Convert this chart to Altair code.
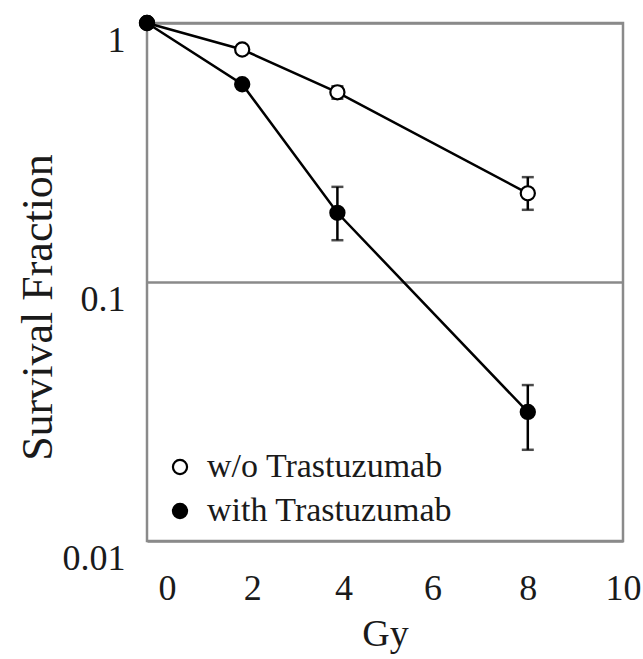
import altair as alt
import pandas as pd

dose = [0, 2, 4, 8]
series_names = ["w/o Trastuzumab", "with Trastuzumab"]
without_mean = [1.0, 0.79, 0.54, 0.22]
without_lo = [1.0, 0.77, 0.51, 0.19]
without_hi = [1.0, 0.81, 0.57, 0.254]
with_mean = [1.0, 0.58, 0.185, 0.0315]
with_lo = [1.0, 0.56, 0.145, 0.0225]
with_hi = [1.0, 0.60, 0.233, 0.040]
x_ticks = [0, 2, 4, 6, 8, 10]
y_ticks = [0.01, 0.1, 1]

rows = []
for name, m, lo, hi in [(series_names[0], without_mean, without_lo, without_hi),
                        (series_names[1], with_mean, with_lo, with_hi)]:
    for d, a, b, c in zip(dose, m, lo, hi):
        rows.append({"series": name, "dose": d, "sf": a, "lo": b, "hi": c})
df = pd.DataFrame(rows)

FONT = "Liberation Serif"
TXT = "#1a1a1a"

x_enc = alt.X("dose:Q",
              scale=alt.Scale(domain=[0, 10], nice=False, zero=False),
              axis=alt.Axis(values=x_ticks, title="Gy", grid=False, domain=False,
                            ticks=False, tickSize=0, labelPadding=30, labelFlush=False,
                            labelFont=FONT, labelFontSize=36, labelColor=TXT,
                            labelOffset={"condition": [
                                {"test": "datum.value == 0", "value": 20},
                                {"test": "datum.value == 2", "value": 10},
                                {"test": "datum.value == 4", "value": 6}],
                                "value": 0},
                            titleFont=FONT, titleFontSize=38, titleFontWeight="normal",
                            titleColor=TXT, titleX=238, titleY=74,
                            titleBaseline="top", titleAlign="center"))
y_scale = alt.Scale(type="log", domain=[0.01, 1], nice=False)
y_enc = alt.Y("sf:Q", scale=y_scale,
              axis=alt.Axis(values=y_ticks, format="~g", title="Survival Fraction",
                            grid=True, gridColor="#8a8a8a", gridWidth=2.5,
                            domain=False, ticks=False, tickSize=0, labelPadding=22,
                            labelBaseline="top", labelFont=FONT, labelFontSize=36,
                            labelColor=TXT, labelFlush=False,
                            titleFont=FONT, titleFontSize=44, titleFontWeight="normal",
                            titleColor=TXT, titleX=-109, titleY=284,
                            titleAngle=270, titleAlign="center", titleBaseline="middle"))

base = alt.Chart(df)

lines = base.mark_line(color="black", strokeWidth=2.5).encode(
    x=x_enc, y=y_enc, detail="series:N")

err = base.mark_rule(color="black", strokeWidth=2.5).encode(
    x="dose:Q", y=alt.Y("lo:Q", scale=y_scale), y2="hi:Q")
cap_lo = base.mark_tick(color="black", orient="horizontal", size=12, thickness=2.5).encode(
    x="dose:Q", y=alt.Y("lo:Q", scale=y_scale))
cap_hi = base.mark_tick(color="black", orient="horizontal", size=12, thickness=2.5).encode(
    x="dose:Q", y=alt.Y("hi:Q", scale=y_scale))

points = base.mark_point(shape="circle", filled=False, stroke="black",
                         strokeWidth=2.2, size=200, opacity=1, fillOpacity=1).encode(
    x="dose:Q", y=alt.Y("sf:Q", scale=y_scale),
    fill=alt.Fill("series:N",
                  scale=alt.Scale(domain=series_names, range=["white", "black"]),
                  legend=alt.Legend(title=None, orient="none", legendX=16, legendY=427,
                                    padding=0, rowPadding=10, labelOffset=10,
                                    symbolType="circle", symbolSize=200,
                                    symbolStrokeColor="black", symbolStrokeWidth=2.2,
                                    symbolFillColor="white",
                                    labelFont=FONT, labelFontSize=34, labelColor=TXT,
                                    labelLimit=400)))

chart = alt.layer(lines, err, cap_lo, cap_hi, points).properties(
    width=476, height=518,
    autosize=alt.AutoSizeParams(type="none"),
    padding={"left": 147, "top": 23, "right": 20, "bottom": 118},
    background="white",
).configure_view(stroke="#8a8a8a", strokeWidth=2.5)

chart.save("out.html", embed_options={"renderer": "svg", "actions": False})
